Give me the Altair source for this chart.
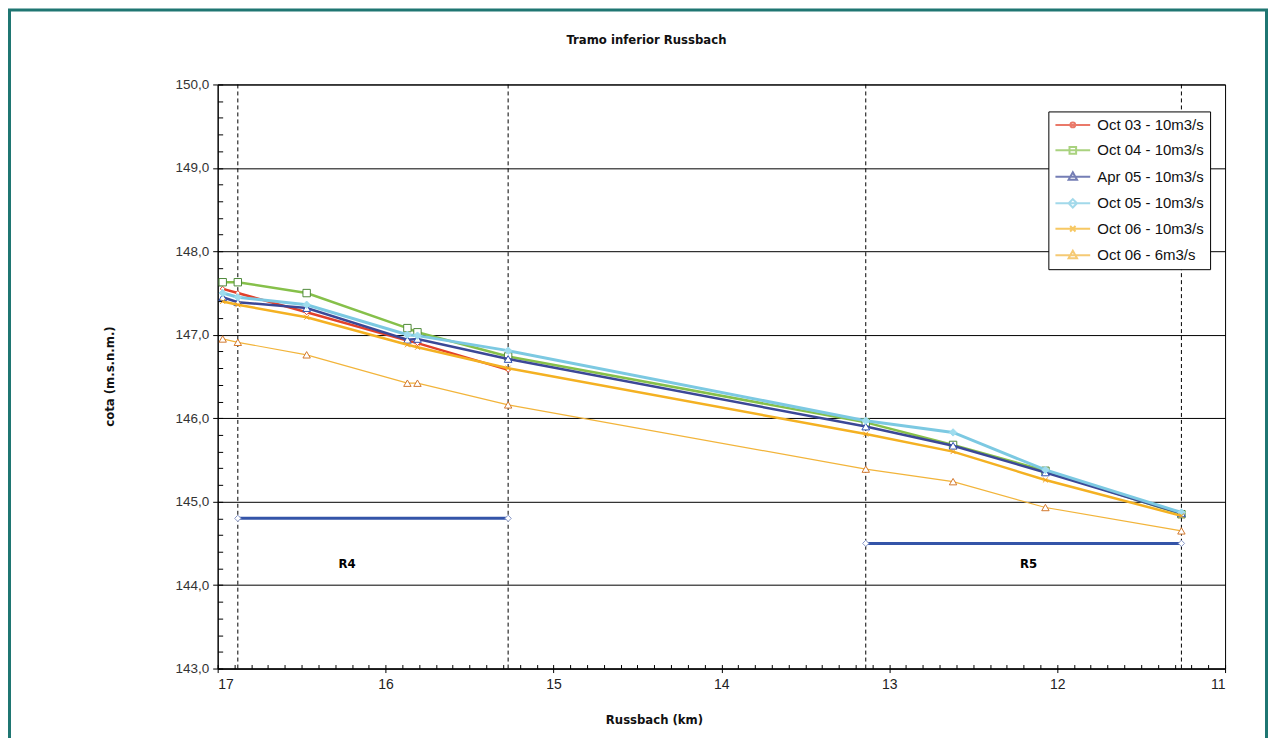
import altair as alt
import pandas as pd

# ---------------- data ----------------
km = [16.97, 16.88, 16.47, 15.87, 15.81, 15.27, 13.14, 12.62, 12.07, 11.26]

series_names = ["Oct 03 - 10m3/s", "Oct 04 - 10m3/s", "Apr 05 - 10m3/s",
                "Oct 05 - 10m3/s", "Oct 06 - 10m3/s", "Oct 06 - 6m3/s"]

oct03_10 = [147.55, 147.50, 147.27, 146.93, 146.90, 146.58]
oct04_10 = [147.63, 147.63, 147.50, 147.08, 147.03, 146.74, 145.95, 145.68, 145.37, 144.85]
apr05_10 = [147.45, 147.39, 147.32, 146.94, 146.95, 146.71, 145.90, 145.67, 145.35, 144.86]
oct05_10 = [147.50, 147.45, 147.36, 147.00, 146.99, 146.81, 145.97, 145.83, 145.38, 144.87]
oct06_10 = [147.40, 147.36, 147.21, 146.88, 146.85, 146.60, 145.81, 145.60, 145.26, 144.83]
oct06_6 = [146.95, 146.91, 146.76, 146.42, 146.42, 146.16, 145.39, 145.24, 144.93, 144.65]

series_values = [oct03_10, oct04_10, apr05_10, oct05_10, oct06_10, oct06_6]

reach_names = ["R4", "R5"]
reach_start_km = [16.88, 13.14]
reach_end_km = [15.27, 11.26]
reach_level = [144.80, 144.50]
reach_label_km = [16.23, 12.17]
reach_label_level = [144.25, 144.25]

section_km = [16.88, 15.27, 13.14, 11.26]

x_major = [17, 16, 15, 14, 13, 12, 11]
x_minor = [round(11 + i * 0.1, 1) for i in range(61)]
y_major = [143, 144, 145, 146, 147, 148, 149, 150]
y_minor = [round(143 + i * 0.2, 1) for i in range(36)]

# ---------------- styles ----------------
line_colors = ["#e2412b", "#86c04a", "#3b4897", "#7cc9e2", "#f4b122", "#f2b43a"]
marker_colors = ["#e2412b", "#4f8a3a", "#3050b0", "#9fdcee", "#f0a020", "#d2782e"]
line_widths = [2.5, 2.5, 2.5, 3, 2.5, 1.2]
marker_shapes = ["diamond", "square", "triangle-up", "diamond",
                 "M-1,-1L1,1M-1,1L1,-1", "triangle-up"]
marker_sizes = [25, 55, 60, 55, 25, 55]
marker_fills = ["white", "white", "white", "#9fdcee", "white", "white"]
legend_paths = [
    "M-2.9,0L2.9,0M0.4,0A0.4,0.4 0 1,1 -0.4,0A0.4,0.4 0 1,1 0.4,0",
    "M-2.9,0L2.9,0M-0.55,-0.55L0.55,-0.55L0.55,0.55L-0.55,0.55Z",
    "M-2.9,0L2.9,0M0,-0.75L0.7,0.5L-0.7,0.5Z",
    "M-2.9,0L2.9,0M0,-0.7L0.7,0L0,0.7L-0.7,0Z",
    "M-2.9,0L2.9,0M-0.45,-0.45L0.45,0.45M-0.45,0.45L0.45,-0.45",
    "M-2.9,0L2.9,0M0,-0.75L0.7,0.5L-0.7,0.5Z",
]

FONT = "Liberation Sans"
NARROW = "Liberation Sans Narrow, DejaVu Sans Condensed, Roboto Condensed, Liberation Sans"

# ---------------- tables ----------------
rows = []
for name, vals in zip(series_names, series_values):
    for k, v in zip(km, vals):
        rows.append({"Series": name, "km": k, "cota": v})
df = pd.DataFrame(rows)

reach_rows = []
for n, a, b, lv in zip(reach_names, reach_start_km, reach_end_km, reach_level):
    reach_rows.append({"Reach": n, "km": a, "cota": lv})
    reach_rows.append({"Reach": n, "km": b, "cota": lv})
reach_df = pd.DataFrame(reach_rows)
reach_lbl = pd.DataFrame({"Reach": reach_names, "km": reach_label_km, "cota": reach_label_level})
sections = pd.DataFrame({"km": section_km})

xscale = alt.Scale(domain=[17, 11], nice=False, zero=False)
yscale = alt.Scale(domain=[143, 150], nice=False, zero=False)


def X(axis=None):
    return alt.X("km:Q", scale=xscale, axis=axis)


def Y(axis=None):
    return alt.Y("cota:Q", scale=yscale, axis=axis)


# outer frame
frame = alt.Chart(pd.DataFrame({"f": [0]})).mark_rect(
    filled=False, stroke="#1f7672", strokeWidth=3
).encode(x=alt.value(-208.5), x2=alt.value(1050.5), y=alt.value(-74.5), y2=alt.value(665))

# main axes
axes_main = alt.Chart(df).transform_filter("false").mark_point(opacity=0).encode(
    x=X(alt.Axis(values=x_major, format="d", orient="bottom", tickSize=4, tickColor="black",
                 domainColor="black", labelPadding=5, labelFont=FONT, labelFontSize=14,
                 labelColor="#222", grid=False, title="Russbach (km)", titleFont=NARROW,
                 titleFontSize=13, titleFontWeight="bold", titleColor="#111",
                 titleX=437, titleY=45, titleAlign="center", titleBaseline="top")),
    y=Y(alt.Axis(values=y_major, orient="left", tickSize=5, tickColor="black",
                 domainColor="black", labelPadding=4, labelFont=FONT, labelFontSize=13.5,
                 labelColor="#333",
                 labelExpr="replace(format(datum.value, '.1f'), '.', ',')",
                 grid=True, gridColor="black", gridOpacity=1, gridWidth=1,
                 title="cota (m.s.n.m.)", titleFont=NARROW, titleFontSize=13,
                 titleFontWeight="bold", titleColor="#111", titleX=-108, titleY=292,
                 titleAlign="center", titleBaseline="middle", titleAngle=-90)),
)

# minor (inward) ticks
axes_minor = alt.Chart(df).transform_filter("false").mark_point(opacity=0).encode(
    x=X(alt.Axis(values=x_minor, orient="bottom", offset=-4, tickSize=4, tickColor="black",
                 domain=False, labels=False, grid=False, title=None)),
    y=Y(alt.Axis(values=y_minor, orient="left", offset=-5, tickSize=5, tickColor="black",
                 domain=False, labels=False, grid=False, title=None)),
)

rules = alt.Chart(sections).mark_rule(color="black", strokeDash=[4, 3], strokeWidth=1).encode(
    x=X()
)

reaches = alt.Chart(reach_df).mark_line(
    color="#3454a8", strokeWidth=3,
    point=alt.OverlayMarkDef(shape="diamond", filled=True, fill="white", stroke="#8898c8",
                             strokeWidth=1, size=40),
).encode(x=X(), y=Y(), detail="Reach:N")

reach_text = alt.Chart(reach_lbl).mark_text(
    font=NARROW, fontSize=13, fontWeight="bold", color="black"
).encode(x=X(), y=Y(), text="Reach:N")

series_layers = []
for i, name in enumerate(series_names):
    sl = alt.Chart(df).transform_filter(alt.datum.Series == name).mark_line(
        color=line_colors[i], strokeWidth=line_widths[i],
        point=alt.OverlayMarkDef(shape=marker_shapes[i], filled=True, fill=marker_fills[i],
                                 stroke=marker_colors[i], strokeWidth=1,
                                 size=marker_sizes[i]),
    ).encode(x=X(), y=Y(), order="km:Q")
    series_layers.append(sl)

legend_layer = alt.Chart(df).transform_filter("false").mark_point(
    filled=False, size=144
).encode(
    x=X(), y=Y(),
    color=alt.Color("Series:N", scale=alt.Scale(domain=series_names, range=line_colors),
                    legend=alt.Legend(title=None)),
    shape=alt.Shape("Series:N", scale=alt.Scale(domain=series_names, range=legend_paths),
                    legend=alt.Legend(title=None)),
    strokeWidth=alt.StrokeWidth("Series:N",
                                scale=alt.Scale(domain=series_names,
                                                range=[2, 2, 2, 2.5, 2, 1.2]),
                                legend=alt.Legend(title=None)),
)

chart = alt.layer(
    frame, axes_main, axes_minor, rules, reaches, *series_layers, reach_text, legend_layer
).resolve_axis(x="independent", y="independent").properties(
    width=1009, height=585,
    title=alt.TitleParams("Tramo inferior Russbach", font=NARROW, fontSize=13,
                          fontWeight="bold", color="#111", anchor="middle",
                          offset=-38, dx=-75),
).configure(
    background="white", padding=0
).configure_view(
    stroke="black", strokeWidth=1
).configure_legend(
    orient="none", legendX=832, legendY=27, strokeColor="black", fillColor="white",
    padding=6, symbolSize=144, symbolOffset=11, labelOffset=17, rowPadding=9.5,
    labelFont=FONT, labelFontSize=15, labelColor="#111", symbolFillColor="transparent",
    cornerRadius=0
)

chart.save("out.html", embed_options={"renderer": "svg", "actions": False})
